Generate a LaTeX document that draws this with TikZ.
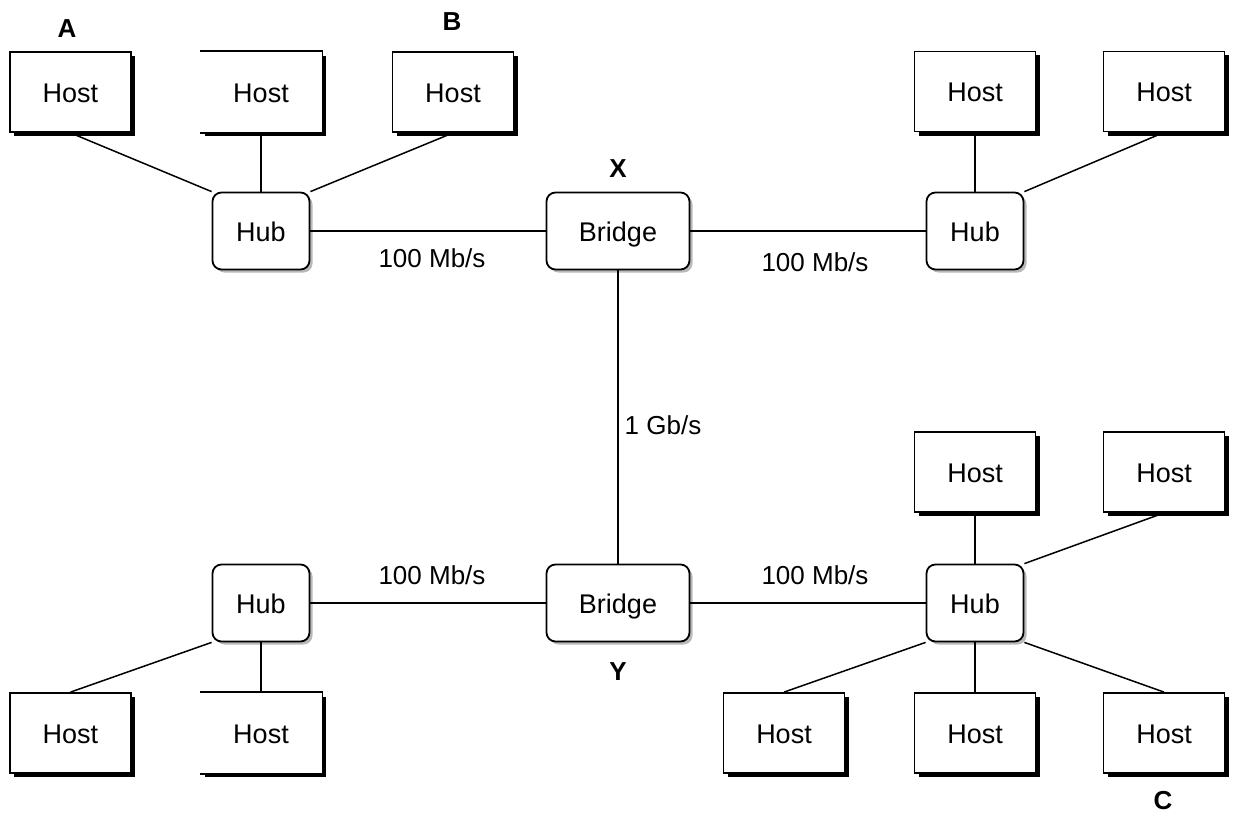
\documentclass[tikz,border=0pt]{standalone}
\usepackage{fontspec}
\setmainfont{Liberation Sans}
\usetikzlibrary{shadows}
\begin{document}
\begin{tikzpicture}[x=1pt,y=-1pt,
  boxtext/.style={font=\fontsize{27}{30}\selectfont, text height=20pt, text depth=0pt},
  hostbox/.style={rectangle, fill=white, draw=black, line width=1.8pt, minimum width=121pt, minimum height=80pt, inner sep=0pt,
    boxtext,
    drop shadow={shadow xshift=4pt, shadow yshift=-4pt, fill=black, opacity=1}},
  openbox/.style={hostbox, draw=none},
  hubbox/.style={rectangle, rounded corners=9pt, fill=white, draw=black, line width=1.8pt, inner sep=0pt,
    boxtext,
    drop shadow={shadow xshift=3pt, shadow yshift=-3pt, fill=gray!55, opacity=1}},
  hub/.style={hubbox, minimum width=97pt, minimum height=77pt},
  bridge/.style={hubbox, minimum width=143pt, minimum height=77pt},
  link/.style={line width=1.5pt},
  rate/.style={font=\fontsize{26}{30}\selectfont, inner sep=0pt},
  tag/.style={font=\bfseries\fontsize{26}{30}\selectfont, inner sep=0pt}
]
\useasboundingbox (0,0) rectangle (1233,816);

% top-left group
\node[hostbox] (hA) at (70.5,92) {Host};
\node[openbox] (hM1) at (261,92) {Host};
\draw[line width=1.8pt] (hM1.north west) -- (hM1.north east) -- (hM1.south east) -- (hM1.south west);
\node[hostbox] (hB) at (453,92) {Host};
\node[hub] (hub1) at (261,231) {Hub};

% top-right group
\node[hostbox] (hTR1) at (975,91.5) {Host};
\node[hostbox] (hTR2) at (1164,91.5) {Host};
\node[hub] (hub2) at (975,231) {Hub};

% bridges
\node[bridge] (bX) at (618,231) {Bridge};
\node[bridge] (bY) at (618,603) {Bridge};

% bottom-left group
\node[hub] (hub3) at (261,603) {Hub};
\node[hostbox] (hBL1) at (70.5,733) {Host};
\node[openbox] (hBL2) at (261,733) {Host};
\draw[line width=1.8pt] (hBL2.north west) -- (hBL2.north east) -- (hBL2.south east) -- (hBL2.south west);

% bottom-right group
\node[hub] (hub4) at (975,603) {Hub};
\node[hostbox] (hR1) at (975,472) {Host};
\node[hostbox] (hR2) at (1164,472) {Host};
\node[hostbox] (hR3) at (784,733) {Host};
\node[hostbox] (hR4) at (975,733) {Host};
\node[hostbox] (hR5) at (1164,733) {Host};

% labels
\node[tag] (lA) at (67,29) {A};
\node[tag] (lB) at (452,22) {B};
\node[tag] (lX) at (618,169) {X};
\node[tag] (lY) at (618,672) {Y};
\node[tag] (lC) at (1163,801) {C};

\node[rate] (r1) at (432,258) {100 Mb/s};
\node[rate] (r2) at (815,262) {100 Mb/s};
\node[rate] (r3) at (432,575) {100 Mb/s};
\node[rate] (r4) at (815,575) {100 Mb/s};
\node[rate] (r5) at (663,425) {1 Gb/s};

% connectors
\draw[link] (hA.south) -- (hub1.north west);
\draw[link] (hM1.south) -- (hub1.north);
\draw[link] (hB.south) -- (hub1.north east);
\draw[link] (hub1.east) -- (bX.west);
\draw[link] (bX.east) -- (hub2.west);
\draw[link] (hTR1.south) -- (hub2.north);
\draw[link] (hTR2.south) -- (hub2.north east);
\draw[line width=2.2pt] (bX.south) -- (bY.north);
\draw[link] (hub3.east) -- (bY.west);
\draw[link] (bY.east) -- (hub4.west);
\draw[link] (hub3.south west) -- (hBL1.north);
\draw[link] (hub3.south) -- (hBL2.north);
\draw[link] (hR1.south) -- (hub4.north);
\draw[link] (hR2.south) -- (hub4.north east);
\draw[link] (hub4.south west) -- (hR3.north);
\draw[link] (hub4.south) -- (hR4.north);
\draw[link] (hub4.south east) -- (hR5.north);
\end{tikzpicture}
\end{document}
